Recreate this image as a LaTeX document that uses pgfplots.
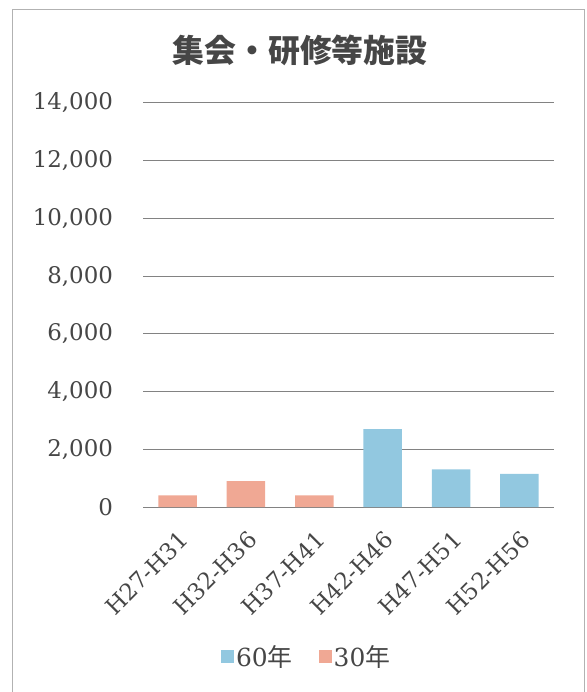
\documentclass[border=0pt]{standalone}
\usepackage{fontspec}
\setmainfont{DejaVu Serif}
\newfontfamily\cjk{Noto Sans CJK JP}
\usepackage{pgfplots}
\pgfplotsset{compat=1.18}
\definecolor{blue60}{RGB}{146,200,224}
\definecolor{salmon30}{RGB}{240,168,148}
\definecolor{txt}{RGB}{70,70,70}
\definecolor{gridc}{RGB}{130,130,130}
\begin{document}
\begin{tikzpicture}[x=1bp,y=1bp]
\path[use as bounding box] (-143.5,-185) rectangle (443.5,507);
\draw[gray!60, line width=1bp] (-130.5,-190) -- (-130.5,497) -- (440.5,497) -- (440.5,-190);
\node[txt, font=\cjk\bfseries\fontsize{32}{36}\selectfont] at (156.5,457) {集会・研修等施設};
\begin{axis}[
  at={(0,0)}, anchor=south west,
  scale only axis, width=410bp, height=404bp,
  xmin=-0.5, xmax=5.5, ymin=0, ymax=14000,
  ytick={0,2000,...,14000},
  xtick={0,...,5},
  xticklabels={H27-H31,H32-H36,H37-H41,H42-H46,H47-H51,H52-H56},
  axis line style={draw=none}, major tick length=0pt,
  ymajorgrids, grid style={gridc, line width=1bp},
  ybar, bar width=38.5bp, bar shift=0pt,
  tick label style={txt, font=\fontsize{23}{26}\selectfont},
  /pgf/number format/1000 sep={,},
  /pgf/number format/fixed,
  /pgf/number format/assume math mode=true,
  yticklabel style={xshift=-27bp},
  scaled y ticks=false,
  xticklabel style={xshift=9bp, yshift=-26bp, rotate=45, anchor=east},
  legend style={at={(0.398,-0.371)}, anchor=center, draw=none, fill=none,
    legend columns=2, font=\fontsize{25}{29}\selectfont, text=txt,
    /tikz/every even column/.append style={column sep=24bp}},
  legend image code/.code={\fill[#1] (0bp,-6.5bp) rectangle (13bp,6.5bp);},
]
\addplot[fill=blue60, draw=none] coordinates {(3,2700) (4,1300) (5,1150)};
\addplot[fill=salmon30, draw=none] coordinates {(0,400) (1,900) (2,400)};
\legend{60{\cjk 年},30{\cjk 年}}
\end{axis}
\end{tikzpicture}
\end{document}
